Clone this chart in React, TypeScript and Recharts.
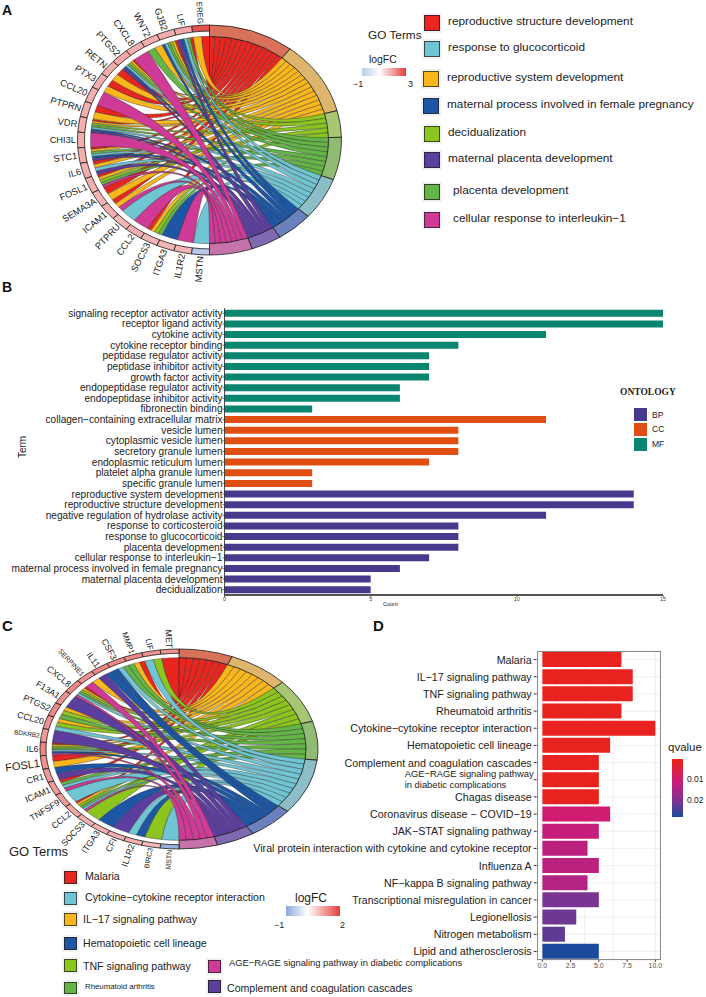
import { Bar, BarChart, CartesianGrid, Cell, Pie, PieChart, XAxis, YAxis } from "recharts";

// Panel A: GO chord
const aTermKeys = "RYLGTBPM";
const aTermCounts = [14, 14, 5, 8, 8, 6, 5, 7];
const aGenes = ["EREG", "LIF", "GJB2", "WNT2", "CXCL8", "PTGS2", "RETN", "PTX3", "CCL20", "PTPRN", "VDR", "CHI3L", "STC1", "IL6", "FOSL1", "SEMA3A", "ICAM1", "PTPRU", "CCL2", "SOCS3", "ITGA3", "IL1R2", "MSTN"];
const aGeneTerms = ["RY", "RGTBP", "RYLGTB", "YG", "M", "RYLGTBP", "RY", "RY", "M", "RY", "RYLGTBP", "M", "RYGTBP", "RYTP", "RYLGM", "RY", "RYM", "T", "M", "RYLG", "B", "M", "T"];
const aGeneLogFC = [2.6, 1.3, 1.2, 1.2, 1.2, 1.3, 1.2, 1.2, 1.2, 1.2, 1.2, 1.2, 1.2, 1.2, 1.2, 1.1, 1.2, 1.1, 1.2, 1.1, 1.1, 1.1, -0.5];
const aLegend = ["reproductive structure development", "response to glucocorticoid", "reproductive system development", "maternal process involved in female pregnancy", "decidualization", "maternal placenta development", "placenta development", "cellular response to interleukin\u22121"];

// Panel B: enrichment counts
const bTerms = ["signaling receptor activator activity", "receptor ligand activity", "cytokine activity", "cytokine receptor binding", "peptidase regulator activity", "peptidase inhibitor activity", "growth factor activity", "endopeptidase regulator activity", "endopeptidase inhibitor activity", "fibronectin binding", "collagen\u2212containing extracellular matrix", "vesicle lumen", "cytoplasmic vesicle lumen", "secretory granule lumen", "endoplasmic reticulum lumen", "platelet alpha granule lumen", "specific granule lumen", "reproductive system development", "reproductive structure development", "negative regulation of hydrolase activity", "response to corticosteroid", "response to glucocorticoid", "placenta development", "cellular response to interleukin\u22121", "maternal process involved in female pregnancy", "maternal placenta development", "decidualization"];
const bCounts = [15, 15, 11, 8, 7, 7, 7, 6, 6, 3, 11, 8, 8, 8, 7, 3, 3, 14, 14, 11, 8, 8, 8, 7, 6, 5, 5];
const bOntology = ["MF", "MF", "MF", "MF", "MF", "MF", "MF", "MF", "MF", "MF", "CC", "CC", "CC", "CC", "CC", "CC", "CC", "BP", "BP", "BP", "BP", "BP", "BP", "BP", "BP", "BP", "BP"];
const ontologyNames = ["BP", "CC", "MF"];

// Panel C: KEGG chord
const cTermKeys = "RYLGTBPM";
const cTermCounts = [7, 8, 8, 7, 10, 6, 5, 5];
const cGenes = ["MET", "LIF", "MMP1", "CSF3", "IL11", "SERPINE1", "CXCL8", "F13A1", "PTGS2", "CCL20", "BDKRB2", "IL6", "FOSL1", "CR1", "ICAM1", "TNFSF9", "CCL2", "SOCS3", "ITGA3", "CFI", "IL1R2", "BIRC3", "MSTN"];
const cGeneTerms = ["R", "LT", "RYG", "GTB", "BP", "YM", "RYLGTM", "P", "YLG", "YLT", "P", "RYLGTBM", "RY", "BP", "RGTM", "T", "RYLGTM", "L", "B", "P", "TB", "L", "T"];
const cGeneLogFC = [1.1, 1.1, 1.2, 1.2, 1.2, 1.1, 1.2, 1.1, 1.2, 1.1, 1.0, 1.2, 1.1, 1.0, 1.0, 1.0, 0.9, 0.8, 0.8, 0.8, 0.8, 0.7, -0.7];

// Panel D: KEGG enrichment
const dPathways = ["Malaria", "IL\u221217 signaling pathway", "TNF signaling pathway", "Rheumatoid arthritis", "Cytokine\u2212cytokine receptor interaction", "Hematopoietic cell lineage", "Complement and coagulation cascades", "AGE\u2212RAGE signaling pathway\nin diabetic complications", "Chagas disease", "Coronavirus disease \u2212 COVID\u221219", "JAK\u2212STAT signaling pathway", "Viral protein interaction with cytokine and cytokine receptor", "Influenza A", "NF\u2212kappa B signaling pathway", "Transcriptional misregulation in cancer", "Legionellosis", "Nitrogen metabolism", "Lipid and atherosclerosis"];
const dCounts = [7, 8, 8, 7, 10, 6, 5, 5, 5, 6, 5, 4, 5, 4, 5, 3, 2, 5];
const dQvalues = [0.001, 0.001, 0.001, 0.001, 0.001, 0.001, 0.001, 0.001, 0.001, 0.011, 0.013, 0.014, 0.014, 0.015, 0.021, 0.022, 0.023, 0.028];
const dTicks = [0, 2.5, 5, 7.5, 10];

// colours
const ribbonColors: Record<string, string> = { R: "#E8251F", Y: "#F9B71C", L: "#8CC51E", G: "#63B545", T: "#6FC5D4", B: "#1D56A5", P: "#5B3E9E", M: "#CE3A96" };
const ringColors = ["#D9725A", "#DDB56C", "#A8C772", "#90BB72", "#8BBEC6", "#6A81BC", "#7F69B0", "#C672AB"];
const ontologyColors: Record<string, string> = { BP: "#463A8C", CC: "#E04E12", MF: "#0A8570" };

const mix = (a: number[], b: number[], t: number) =>
  `rgb(${a.map((v, i) => Math.round(v + (b[i] - v) * t)).join(",")})`;

function logFCColor(v: number, max: number) {
  if (v < 0) return mix([255, 255, 255], [108, 143, 214], -v);
  return mix([255, 255, 255], [226, 55, 50], v / max);
}

const qStops: [number, number[]][] = [
  [0.001, [232, 35, 31]],
  [0.012, [206, 26, 120]],
  [0.021, [124, 52, 146]],
  [0.028, [27, 74, 156]],
];

function qColor(q: number) {
  for (let i = 1; i < qStops.length; i++) {
    if (q <= qStops[i][0]) {
      const [q0, c0] = qStops[i - 1];
      const [q1, c1] = qStops[i];
      return mix(c0, c1, Math.max(0, (q - q0) / (q1 - q0)));
    }
  }
  return "rgb(27,74,156)";
}

const polar = (cx: number, cy: number, r: number, angle: number, k: number) => ({
  x: cx + r * Math.cos((angle * Math.PI) / 180),
  y: cy - k * r * Math.sin((angle * Math.PI) / 180),
});

// pie sector squashed into an ellipse, the source figure is not round
function EllipseSector(props: any) {
  const { cx, cy, innerRadius, outerRadius, startAngle, endAngle, fill, k, labelSize, name } = props;
  const sweep = endAngle < startAngle ? 1 : 0;
  const a = polar(cx, cy, outerRadius, startAngle, k);
  const b = polar(cx, cy, outerRadius, endAngle, k);
  const c = polar(cx, cy, innerRadius, endAngle, k);
  const e = polar(cx, cy, innerRadius, startAngle, k);
  const d =
    `M${a.x},${a.y}A${outerRadius},${k * outerRadius} 0 0 ${sweep} ${b.x},${b.y}` +
    `L${c.x},${c.y}A${innerRadius},${k * innerRadius} 0 0 ${1 - sweep} ${e.x},${e.y}Z`;
  const mid = (startAngle + endAngle) / 2;
  const anchor = polar(cx, cy, outerRadius + 1.5, mid, k);
  return (
    <g>
      <path d={d} fill={fill} stroke="#1a1a1a" strokeWidth={0.8} />
      {labelSize ? (
        <text
          x={anchor.x}
          y={anchor.y}
          fontSize={labelSize[name] ?? labelSize.base}
          fill="#222"
          textAnchor="end"
          dominantBaseline="central"
          transform={`rotate(${180 - mid} ${anchor.x} ${anchor.y})`}
        >
          {name}
        </text>
      ) : null}
    </g>
  );
}

function ChordRibbons({ cx, cy, r, k, keys, counts, geneTerms }: any) {
  const termDeg = 180 / counts.reduce((s: number, n: number) => s + n, 0);
  const geneDeg = 180 / geneTerms.length;
  const termStart: number[] = [];
  counts.reduce((s: number, n: number, i: number) => {
    termStart[i] = s;
    return s + n * termDeg;
  }, 0);
  const used = counts.map(() => 0);
  const ribbons: any[] = [];
  geneTerms.forEach((terms: string, g: number) => {
    terms.split("").forEach((key, j) => {
      const t = keys.indexOf(key);
      const g0 = 90 + (g + j / terms.length) * geneDeg;
      const g1 = 90 + (g + (j + 1) / terms.length) * geneDeg;
      const t0 = 90 - termStart[t] - used[t] * termDeg;
      const t1 = t0 - termDeg;
      used[t] += 1;
      ribbons.push({ key, t, g0, g1, t0, t1 });
    });
  });
  ribbons.sort((a, b) => a.t - b.t);
  return (
    <g>
      {ribbons.map((rb, i) => {
        const a = polar(cx, cy, r, rb.g0, k);
        const b = polar(cx, cy, r, rb.g1, k);
        const c = polar(cx, cy, r, rb.t1, k);
        const e = polar(cx, cy, r, rb.t0, k);
        const d =
          `M${a.x},${a.y}A${r},${k * r} 0 0 0 ${b.x},${b.y}Q${cx},${cy} ${c.x},${c.y}` +
          `A${r},${k * r} 0 0 0 ${e.x},${e.y}Q${cx},${cy} ${a.x},${a.y}Z`;
        return <path key={i} d={d} fill={ribbonColors[rb.key]} stroke="#2b2b2b" strokeWidth={0.4} />;
      })}
    </g>
  );
}

function ChordPanel({ left, top, width, height, cx, cy, rx, ry, ribbonR, geneInner, keys, counts, genes, geneTerms, logFC, maxFC, labelSize }: any) {
  const k = ry / rx;
  const termRows = counts.map((value: number, i: number) => ({ name: keys[i], value }));
  const geneRows = genes.map((name: string) => ({ name, value: 1 }));
  return (
    <div style={{ position: "absolute", left, top }}>
      <PieChart width={width} height={height} margin={{ top: 0, right: 0, bottom: 0, left: 0 }}>
        <ChordRibbons cx={cx} cy={cy} r={ribbonR} k={k} keys={keys} counts={counts} geneTerms={geneTerms} />
        <Pie
          data={termRows}
          dataKey="value"
          cx={cx}
          cy={cy}
          startAngle={90}
          endAngle={-90}
          innerRadius={ribbonR}
          outerRadius={rx}
          paddingAngle={0}
          isAnimationActive={false}
          shape={(p: any) => <EllipseSector {...p} k={k} />}
        >
          {termRows.map((_: any, i: number) => (
            <Cell key={i} fill={ringColors[i]} />
          ))}
        </Pie>
        <Pie
          data={geneRows}
          dataKey="value"
          cx={cx}
          cy={cy}
          startAngle={90}
          endAngle={270}
          innerRadius={geneInner}
          outerRadius={rx}
          paddingAngle={0}
          isAnimationActive={false}
          shape={(p: any) => <EllipseSector {...p} k={k} labelSize={labelSize} />}
        >
          {geneRows.map((_: any, i: number) => (
            <Cell key={i} fill={logFCColor(logFC[i], maxFC)} />
          ))}
        </Pie>
      </PieChart>
    </div>
  );
}

function Caption({ x, y, size, children, style }: any) {
  return (
    <div
      style={{
        position: "absolute",
        left: x,
        top: y,
        fontSize: size,
        lineHeight: 1,
        whiteSpace: "nowrap",
        color: "#222",
        transform: "translateY(-50%)",
        ...style,
      }}
    >
      {children}
    </div>
  );
}

function Swatch({ x, y, w, h, color }: any) {
  return (
    <div
      style={{
        position: "absolute",
        left: x,
        top: y,
        width: w,
        height: h,
        boxSizing: "border-box",
        background: color,
        border: "1px solid rgba(30,30,30,0.75)",
        boxShadow: "0 0 0 2px #f3f2f2",
      }}
    />
  );
}

// single line tick, the default one wraps long terms
function BTick({ x, y, payload }: any) {
  return (
    <text x={x} y={y} fontSize={10.1} fill="#222" textAnchor="end" dominantBaseline="central">
      {payload.value}
    </text>
  );
}

function DTick({ x, y, payload }: any) {
  const label: string = payload.value;
  if (label.includes("\n")) {
    const lines = label.split("\n");
    return (
      <text fontSize={9.4} fill="#222">
        <tspan x={x - 127} y={y - 3}>{lines[0]}</tspan>
        <tspan x={x - 127} y={y + 8.5}>{lines[1]}</tspan>
      </text>
    );
  }
  return (
    <text x={x} y={y} fontSize={label.startsWith("Transcriptional") ? 10.5 : 10.7} fill="#222" textAnchor="end" dominantBaseline="central">
      {label}
    </text>
  );
}

const bRows = bTerms.map((term, i) => ({ term, count: bCounts[i], ontology: bOntology[i] }));
const dRows = dPathways.map((pathway, i) => ({ pathway, count: dCounts[i], q: dQvalues[i] }));

const aRowY = [23, 49, 79, 106, 134, 160, 192, 220];
const aSwatchX = [424, 424, 423, 423, 424, 424, 424, 424];
const aTextX = [448, 448, 447, 447, 448, 448, 453, 453];
const aLegendColors = ["R", "T", "Y", "B", "L", "P", "G", "M"];

export default function App() {
  return (
    <div
      style={{
        position: "absolute",
        left: 0,
        top: 0,
        width: 706,
        height: 997,
        overflow: "hidden",
        background: "#fff",
        fontFamily: "'Liberation Sans', Arial, sans-serif",
      }}
    >
      <Caption x={2} y={10} size={14} style={{ fontWeight: 700, color: "#111" }}>A</Caption>
      <Caption x={2} y={287} size={14} style={{ fontWeight: 700, color: "#111" }}>B</Caption>
      <Caption x={2} y={625} size={15} style={{ fontWeight: 700, color: "#111" }}>C</Caption>
      <Caption x={373} y={625} size={15} style={{ fontWeight: 700, color: "#111" }}>D</Caption>

      <ChordPanel
        left={0}
        top={0}
        width={350}
        height={285}
        cx={209.5}
        cy={140}
        rx={132}
        ry={115}
        ribbonR={119}
        geneInner={125}
        keys={aTermKeys}
        counts={aTermCounts}
        genes={aGenes}
        geneTerms={aGeneTerms}
        logFC={aGeneLogFC}
        maxFC={3}
        labelSize={{ base: 9.3, EREG: 7.8, LIF: 8.6 }}
      />

      <Caption x={368} y={36} size={11.8}>GO Terms</Caption>
      <Caption x={369} y={60} size={10.4}>logFC</Caption>
      <div style={{ position: "absolute", left: 362, top: 68, width: 44, height: 8, background: "linear-gradient(90deg,#B5CCE9,#fff 40%,#E53B3B)" }} />
      <Caption x={353} y={84} size={9}>{"\u22121"}</Caption>
      <Caption x={408} y={84} size={9}>3</Caption>
      {aLegend.map((name, i) => (
        <div key={name}>
          <Swatch x={aSwatchX[i]} y={aRowY[i] - 8} w={15.5} h={15.5} color={ribbonColors[aLegendColors[i]]} />
          <Caption x={aTextX[i]} y={aRowY[i] - 1} size={11.8}>{name}</Caption>
        </div>
      ))}

      <div style={{ position: "absolute", left: 0, top: 300 }}>
        <BarChart
          width={706}
          height={310}
          layout="vertical"
          data={bRows}
          barCategoryGap="17%"
          margin={{ top: 8, right: 43, bottom: 0, left: 0.5 }}
        >
          <XAxis
            type="number"
            dataKey="count"
            domain={[0, 15]}
            ticks={[0, 5, 10, 15]}
            height={15}
            tick={{ fontSize: 5.5, fill: "#444" }}
            tickSize={2}
            tickMargin={0}
            axisLine={{ stroke: "#555", strokeWidth: 2 }}
            tickLine={{ stroke: "#555" }}
          />
          <YAxis
            type="category"
            dataKey="term"
            width={224}
            interval={0}
            tick={BTick}
            tickSize={2}
            tickMargin={0}
            axisLine={{ stroke: "#222", strokeWidth: 0.8 }}
            tickLine={{ stroke: "#222", strokeWidth: 0.6 }}
          />
          <Bar dataKey="count" isAnimationActive={false}>
            {bRows.map((row) => (
              <Cell key={row.term} fill={ontologyColors[row.ontology]} />
            ))}
          </Bar>
        </BarChart>
      </div>
      <Caption x={12} y={447} size={10} style={{ transform: "translateY(-50%) rotate(-90deg)" }}>Term</Caption>
      <Caption x={383} y={605} size={5.5}>Count</Caption>
      <Caption x={620} y={393} size={9.5} style={{ fontFamily: "'Liberation Serif', serif", fontWeight: 700 }}>ONTOLOGY</Caption>
      {ontologyNames.map((name, i) => (
        <div key={name}>
          <div style={{ position: "absolute", left: 634, top: 408 + i * 15, width: 13, height: 13, background: ontologyColors[name] }} />
          <Caption x={652} y={414.5 + i * 14.8} size={8.5}>{name}</Caption>
        </div>
      ))}

      <ChordPanel
        left={0}
        top={620}
        width={350}
        height={280}
        cx={179}
        cy={129}
        rx={139}
        ry={100}
        ribbonR={127}
        geneInner={133}
        keys={cTermKeys}
        counts={cTermCounts}
        genes={cGenes}
        geneTerms={cGeneTerms}
        logFC={cGeneLogFC}
        maxFC={2}
        labelSize={{ base: 8.8, SERPINE1: 7, BDKRB2: 6.5, FOSL1: 11, BIRC3: 7, MSTN: 7, MMP1: 7.8, LIF: 8 }}
      />

      <div style={{ position: "absolute", left: 250, top: 640 }}>
        <BarChart
          width={456}
          height={340}
          layout="vertical"
          data={dRows}
          barCategoryGap="6%"
          margin={{ top: 11, right: 45, bottom: 0, left: 0 }}
        >
          <CartesianGrid stroke="#ebebeb" strokeWidth={0.8} verticalValues={[0, 1.25, 2.5, 3.75, 5, 6.25, 7.5, 8.75, 10]} />
          <XAxis
            type="number"
            dataKey="count"
            domain={[-0.5, 10.5]}
            ticks={dTicks}
            height={20}
            tick={{ fontSize: 7, fill: "#4d4d4d" }}
            tickFormatter={(v: number) => v.toFixed(1)}
            tickSize={2}
            tickMargin={1}
            axisLine={false}
            tickLine={{ stroke: "#444" }}
          />
          <YAxis
            type="category"
            dataKey="pathway"
            width={286.7}
            interval={0}
            tick={DTick}
            tickSize={3}
            tickMargin={2}
            axisLine={false}
            tickLine={{ stroke: "#333" }}
          />
          <Bar dataKey="count" isAnimationActive={false}>
            {dRows.map((row) => (
              <Cell key={row.pathway} fill={qColor(row.q)} />
            ))}
          </Bar>
        </BarChart>
      </div>
      <div style={{ position: "absolute", left: 536.5, top: 651, width: 124.5, height: 309, boxSizing: "border-box", border: "1.3px solid #8a8a8a" }} />

      <Caption x={668} y={748} size={11.5}>qvalue</Caption>
      <div style={{ position: "absolute", left: 671.7, top: 759, width: 11.6, height: 58, background: "linear-gradient(180deg,#E8231F 0%,#E8231F 5%,#CE1A78 38%,#7C3492 72%,#1B4A9C 100%)" }} />
      <Caption x={687} y={779} size={8.5}>0.01</Caption>
      <Caption x={687} y={800} size={8.5}>0.02</Caption>

      <Caption x={9} y={851} size={13}>GO Terms</Caption>
      <Caption x={295} y={898} size={12}>logFC</Caption>
      <div style={{ position: "absolute", left: 286, top: 906, width: 54, height: 10, background: "linear-gradient(90deg,#8BA8DC,#fff 40%,#E5403A)" }} />
      <Caption x={274} y={925} size={9}>{"\u22121"}</Caption>
      <Caption x={340} y={925} size={9}>2</Caption>

      <Swatch x={64} y={871} w={13} h={12.5} color={ribbonColors.R} />
      <Caption x={85} y={876} size={10.6}>Malaria</Caption>
      <Swatch x={64} y={892} w={13} h={13} color={ribbonColors.T} />
      <Caption x={85} y={897} size={10.6}>{"Cytokine\u2212cytokine receptor interaction"}</Caption>
      <Swatch x={64} y={913} w={13} h={13} color={ribbonColors.Y} />
      <Caption x={83} y={919} size={10.6}>{"IL\u221217 signaling pathway"}</Caption>
      <Swatch x={64} y={937} w={13} h={13} color={ribbonColors.B} />
      <Caption x={83} y={943} size={10.6}>Hematopoietic cell lineage</Caption>
      <Swatch x={64} y={959} w={13} h={13} color={ribbonColors.L} />
      <Caption x={83} y={966} size={10.6}>TNF signaling pathway</Caption>
      <Swatch x={64} y={982} w={12.5} h={11.5} color={ribbonColors.G} />
      <Caption x={85} y={987} size={7.8}>Rheumatoid arthritis</Caption>
      <Swatch x={207.5} y={959.5} w={13} h={13} color={ribbonColors.M} />
      <Caption x={229} y={963} size={9.4}>{"AGE\u2212RAGE signaling pathway in diabetic complications"}</Caption>
      <Swatch x={207.5} y={980} w={13} h={13} color={ribbonColors.P} />
      <Caption x={227} y={988} size={10.6}>Complement and coagulation cascades</Caption>
    </div>
  );
}
